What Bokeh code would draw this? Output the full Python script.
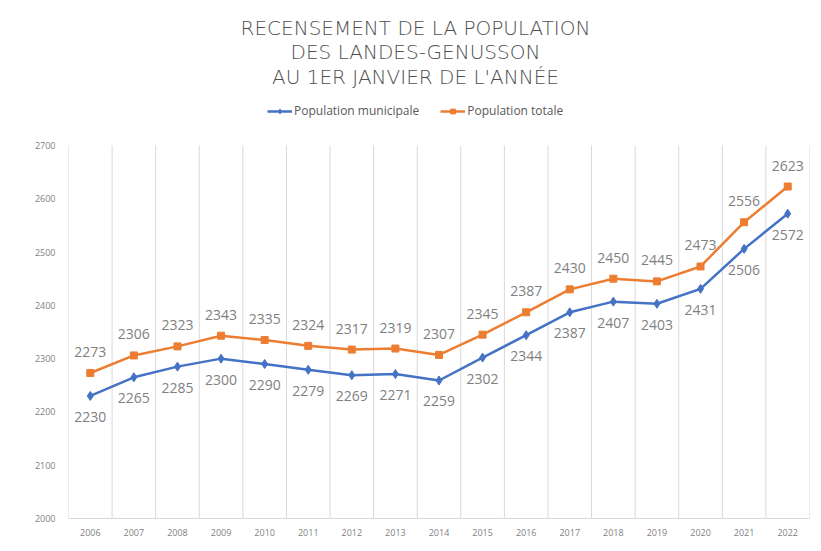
from bokeh.plotting import figure
from bokeh.models import (ColumnDataSource, Range1d, FixedTicker, LabelSet, Label,
                          Legend, LegendItem)
from bokeh.core.properties import value
from bokeh.embed import file_html
from bokeh.resources import INLINE

years = [2006, 2007, 2008, 2009, 2010, 2011, 2012, 2013, 2014, 2015, 2016,
         2017, 2018, 2019, 2020, 2021, 2022]
pop_municipale = [2230, 2265, 2285, 2300, 2290, 2279, 2269, 2271, 2259, 2302,
                  2344, 2387, 2407, 2403, 2431, 2506, 2572]
pop_totale = [2273, 2306, 2323, 2343, 2335, 2324, 2317, 2319, 2307, 2345,
              2387, 2430, 2450, 2445, 2473, 2556, 2623]
y_ticks = [2000, 2100, 2200, 2300, 2400, 2500, 2600, 2700]
title_lines = ["RECENSEMENT DE LA POPULATION", "DES LANDES-GENUSSON",
               "AU 1ER JANVIER DE L'ANNÉE"]
series_names = ["Population municipale", "Population totale"]

BLUE = "#4472C4"
ORANGE = "#ED7D31"
GRID = "#d9d9d9"
TXT = "#7f7f7f"

W, H = 813, 543
FL, FT, FR, FB = 68, 145, 4, 25   # plot-area borders (px)
ymin, ymax = y_ticks[0], y_ticks[-1]
plot_h = H - FT - FB
ppu = plot_h / (ymax - ymin)        # px per unit
ytop = ymax + FT / ppu               # frame extended to the top for title/legend

p = figure(width=W, height=H, output_backend="svg", toolbar_location=None,
           x_range=Range1d(years[0] - 0.5, years[-1] + 0.5),
           y_range=Range1d(ymin, ytop),
           min_border_left=FL, min_border_top=0, min_border_right=FR,
           min_border_bottom=FB)
p.outline_line_color = None
p.background_fill_color = "white"

# axes
p.xaxis.ticker = FixedTicker(ticks=years)
p.yaxis.ticker = FixedTicker(ticks=y_ticks)
for ax in (p.xaxis[0], p.yaxis[0]):
    ax.major_tick_line_color = None
    ax.minor_tick_line_color = None
    ax.major_label_text_font = "Open Sans"
    ax.major_label_text_font_size = "9px"
    ax.major_label_text_color = TXT
p.yaxis.axis_line_color = None
p.xaxis.axis_line_color = GRID
p.xaxis.major_label_standoff = 4
p.yaxis.major_label_standoff = 7

# vertical grid lines at category boundaries, limited to the plot area
p.xgrid.grid_line_color = None
p.ygrid.grid_line_color = None
bounds = [y - 0.5 for y in years] + [years[-1] + 0.5]
p.segment(x0=bounds, y0=[ymin] * len(bounds), x1=bounds, y1=[ymax] * len(bounds),
          line_color=GRID, line_width=1)

src = ColumnDataSource(dict(x=years, m=pop_municipale, t=pop_totale,
                            ml=[str(v) for v in pop_municipale],
                            tl=[str(v) for v in pop_totale]))

lm = p.line("x", "m", source=src, line_color=BLUE, line_width=2.5)
sm = p.scatter("x", "m", source=src, marker="diamond", size=9,
               fill_color=BLUE, line_color=BLUE)
lt = p.line("x", "t", source=src, line_color=ORANGE, line_width=2.5)
st = p.scatter("x", "t", source=src, marker="square", size=7,
               fill_color=ORANGE, line_color=ORANGE)

p.add_layout(LabelSet(x="x", y="t", text="tl", source=src, y_offset=21,
                      text_align="center", text_baseline="middle",
                      text_font=value("Open Sans"), text_font_size="14px",
                      text_color=TXT))
p.add_layout(LabelSet(x="x", y="m", text="ml", source=src, y_offset=-21,
                      text_align="center", text_baseline="middle",
                      text_font=value("Open Sans"), text_font_size="14px",
                      text_color=TXT))

# title: three centered lines
xpx = (W - FL - FR) / len(years)
title_cx = years[0] - 0.5 + (415 - FL) / xpx
for i, line in enumerate(title_lines):
    ypix = 27 + 24.5 * i
    p.add_layout(Label(x=title_cx, y=ymax + (FT - ypix) / ppu,
                       text=line, text_align="center", text_baseline="middle",
                       text_font="DejaVu Sans Light", text_font_size="20px",
                       text_color="#505050"))

legend = Legend(items=[LegendItem(label=series_names[0], renderers=[lm, sm]),
                       LegendItem(label=series_names[1], renderers=[lt, st])],
                orientation="horizontal", location=(199, plot_h + 26),
                border_line_color=None, background_fill_alpha=0,
                label_text_font="Open Sans", label_text_font_size="12px",
                label_text_color="#595959", glyph_width=25, glyph_height=12,
                label_standoff=2, spacing=21, padding=2, margin=0)
p.add_layout(legend, "center")

open("out.html", "w").write(file_html(p, INLINE))
